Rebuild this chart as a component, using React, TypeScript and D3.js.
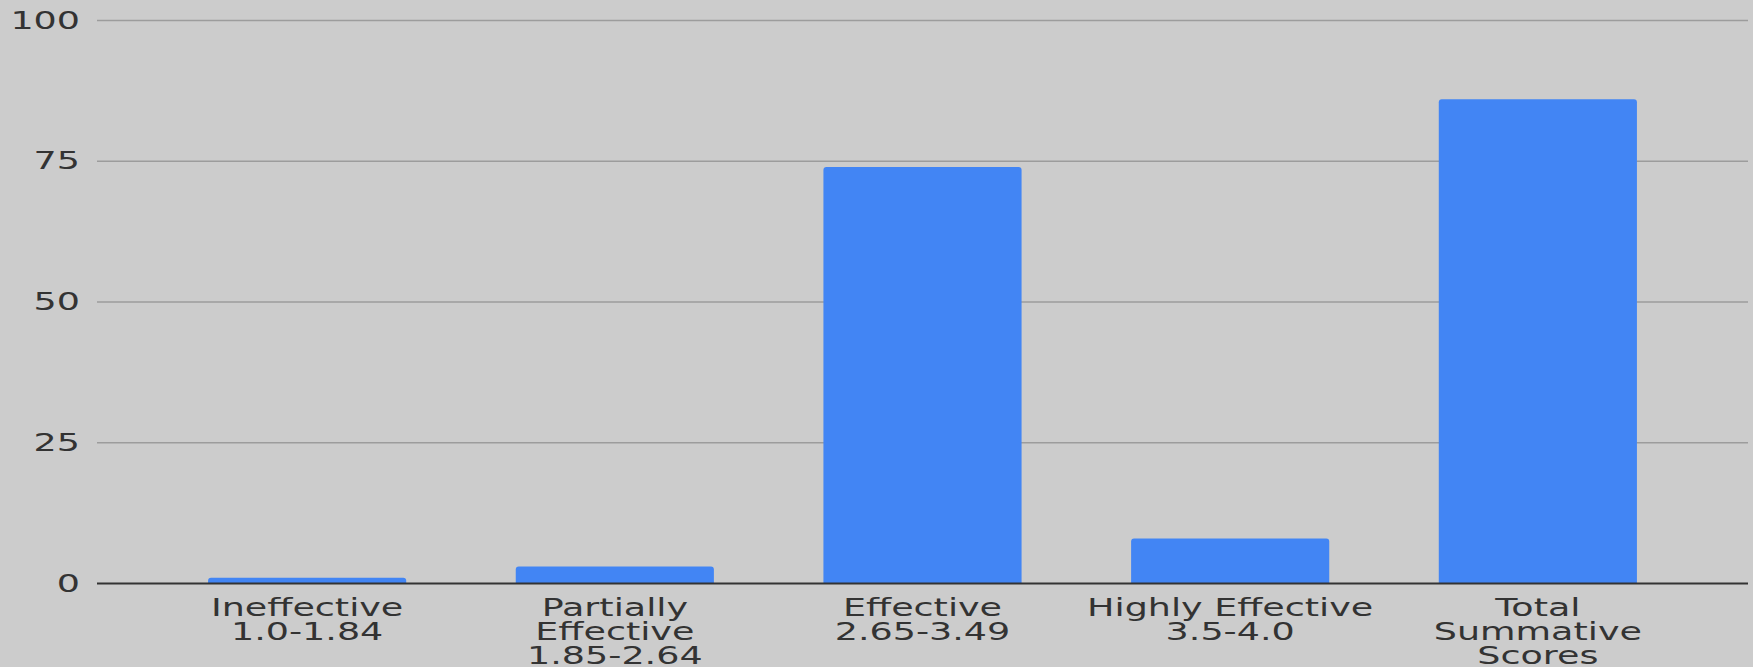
import React from "react";
import * as d3 from "d3";

const categories: string[][] = [
  ["Ineffective", "1.0-1.84"],
  ["Partially", "Effective", "1.85-2.64"],
  ["Effective", "2.65-3.49"],
  ["Highly Effective", "3.5-4.0"],
  ["Total", "Summative", "Scores"],
];
const values: number[] = [1, 3, 74, 8, 86];
const yTicks: number[] = [0, 25, 50, 75, 100];

const W = 1753;
const H = 667;
const SX = 1.52; // horizontal text stretch

export default function App() {
  const x = d3
    .scaleBand<number>()
    .domain(values.map((_, i) => i))
    .range([97, 1748])
    .paddingInner(0.356)
    .paddingOuter(0.361);
  const y = d3.scaleLinear().domain([0, 100]).range([583.5, 20.5]);

  const font = "'DejaVu Sans', Verdana, sans-serif";

  return (
    <svg
      width={W}
      height={H}
      style={{ position: "absolute", left: 0, top: 0, background: "#cccccc" }}
    >
      <rect x={0} y={0} width={W} height={H} fill="#cccccc" />
      {yTicks
        .filter((t) => t !== 0)
        .map((t) => (
          <line
            key={"g" + t}
            x1={97}
            x2={1748}
            y1={y(t)}
            y2={y(t)}
            stroke="#9c9c9c"
            strokeWidth={1.5}
          />
        ))}
      {yTicks.map((t) => (
        <text
          key={"l" + t}
          transform={`translate(80,${y(t) + 8}) scale(${SX},1)`}
          textAnchor="end"
          fontFamily={font}
          fontSize={24}
          fill="#333333"
        >
          {t}
        </text>
      ))}
      {values.map((v, i) => {
        const bx = x(i)!;
        const bw = x.bandwidth();
        const top = y(v);
        const h = y(0) - top;
        return (
          <path
            key={"b" + i}
            d={`M${bx},${y(0)} L${bx},${top + 3} Q${bx},${top} ${bx + 3},${top} L${bx + bw - 3},${top} Q${bx + bw},${top} ${bx + bw},${top + 3} L${bx + bw},${y(0)} Z`}
            fill="#4285f4"
            opacity={h > 0 ? 1 : 0}
          />
        );
      })}
      <line x1={97} x2={1748} y1={y(0)} y2={y(0)} stroke="#333333" strokeWidth={2} />
      {categories.map((lines, i) => {
        const cx = x(i)! + x.bandwidth() / 2;
        return lines.map((ln, j) => (
          <text
            key={"c" + i + "-" + j}
            transform={`translate(${cx},${615.5 + j * 24}) scale(${SX},1)`}
            textAnchor="middle"
            fontFamily={font}
            fontSize={24}
            fill="#333333"
          >
            {ln}
          </text>
        ));
      })}
    </svg>
  );
}
